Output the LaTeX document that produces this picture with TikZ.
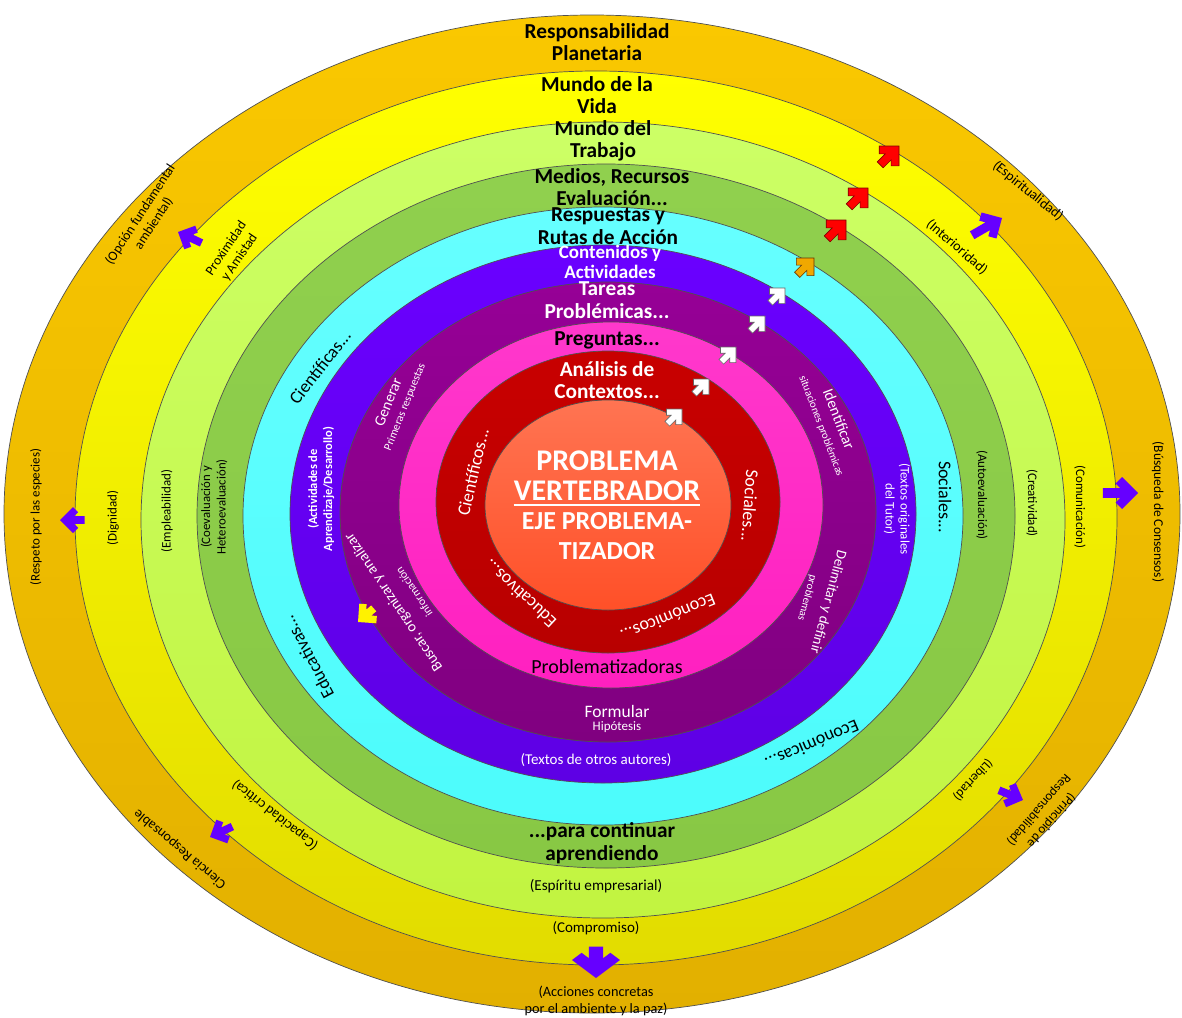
\documentclass[tikz,border=0pt]{standalone}
\usepackage{fontspec}
\setmainfont{Carlito}
\definecolor{ringline}{HTML}{505050}
\definecolor{orT}{HTML}{FAC800}
\definecolor{orB}{HTML}{E2B000}
\definecolor{yeT}{HTML}{FFFF00}
\definecolor{yeB}{HTML}{E2DC00}
\definecolor{lgT}{HTML}{CCFF66}
\definecolor{lgB}{HTML}{C2F440}
\definecolor{grT}{HTML}{90D04E}
\definecolor{grB}{HTML}{88C844}
\definecolor{cyT}{HTML}{66FFFF}
\definecolor{cyB}{HTML}{4CFCFC}
\definecolor{viT}{HTML}{6A00FF}
\definecolor{viB}{HTML}{5E00E4}
\definecolor{puT}{HTML}{960096}
\definecolor{puB}{HTML}{800080}
\definecolor{piT}{HTML}{FF38CC}
\definecolor{piB}{HTML}{FF20C0}
\definecolor{reT}{HTML}{C80000}
\definecolor{reB}{HTML}{B80000}
\definecolor{ceT}{HTML}{FF7452}
\definecolor{ceB}{HTML}{FF5028}
\definecolor{arrPurple}{HTML}{6600FF}
\definecolor{arrRed}{HTML}{FF0000}
\definecolor{arrOrange}{HTML}{F0A800}
\newcommand{\fsz}[2]{\fontsize{#1}{#2}\selectfont}
% style, x, y, angle, size, tail length, head length factor
\newcommand{\blockarr}[7]{%
  \path[#1, shift={(#2,#3)}, rotate=#4, scale=#5, xscale=#7]
    (0,0) -- (-1,1) -- (-1.4,0.6) -- (-1.1,0.3) -- (-#6,0.3) -- (-#6,-0.3)
    -- (-1.1,-0.3) -- (-1.4,-0.6) -- (-1,-1) -- cycle;}
\begin{document}
\begin{tikzpicture}[x=1pt,y=-1pt,
  ring/.style={draw=ringline, line width=0.7pt},
  head/.style={font={\fsz{21.3}{22.5}\bfseries}, align=center, inner sep=0pt},
  headw/.style={head, text=white},
  lab/.style={font={\fsz{13}{15}}, align=center, inner sep=0pt},
  labm/.style={font={\fsz{14.5}{16.5}}, align=center, inner sep=0pt},
  bigl/.style={font={\fsz{18}{20}}, align=center, inner sep=0pt},
  tinyl/.style={font={\fsz{11}{13}}, align=center, inner sep=0pt},
  parr/.style={fill=arrPurple},
  rarr/.style={fill=arrRed, draw=red!50!black, line width=0.6pt},
  oarr/.style={fill=arrOrange, draw=orange!40!black, line width=0.6pt},
  warr/.style={fill=white, draw=black!60, line width=0.6pt},
  yarr/.style={fill=yellow}]
\path[use as bounding box] (0,0) rectangle (1182,1017);

% rings
\path[ring, top color=orT, bottom color=orB] (592,514) ellipse [x radius=588pt, y radius=499pt];
\path[ring, top color=yeT, bottom color=yeB] (596,518) ellipse [x radius=521pt, y radius=447pt];
\path[ring, top color=lgT, bottom color=lgB] (603,520) ellipse [x radius=462pt, y radius=398pt];
\path[ring, top color=grT, bottom color=grB] (606,516) ellipse [x radius=409pt, y radius=352pt];
\path[ring, top color=cyT, bottom color=cyB] (603,516) ellipse [x radius=360pt, y radius=309pt];
\path[ring, top color=viT, bottom color=viB] (603,514) ellipse [x radius=313pt, y radius=269pt];
\path[ring, top color=puT, bottom color=puB] (608,512) ellipse [x radius=268pt, y radius=230pt];
\path[ring, top color=piT, bottom color=piB] (611,505) ellipse [x radius=212pt, y radius=183pt];
\path[ring, top color=reT, bottom color=reB] (608,502) ellipse [x radius=172pt, y radius=151pt];
\path[ring, top color=ceT, bottom color=ceB] (608,505) ellipse [x radius=123pt, y radius=105pt];

% headings
\node[head] (resp) at (597,42) {Responsabilidad\\Planetaria};
\node[head] (vida) at (597,95) {Mundo de la\\Vida};
\node[head] (trab) at (603,141) {Mundo del\\Trabajo};
\node[head] (medi) at (612,187) {Medios, Recursos\\Evaluación...};
\node[head] (ruta) at (608,226) {Respuestas y\\Rutas de Acción};
\node[headw, font={\fsz{19}{19.5}\bfseries}] (cont) at (610,262) {Contenidos y\\Actividades};
\node[headw] (tare) at (607,300) {Tareas\\Problémicas...};
\node[head] (preg) at (607,340) {Preguntas...};
\node[headw] (anal) at (607,380) {Análisis de\\Contextos...};

% center
\node[headw, font={\fsz{30}{32}\bfseries}] (pb1) at (607,461) {PROBLEMA};
\node[headw, font={\fsz{30}{32}\bfseries}] (pb2) at (607,491) {VERTEBRADOR};
\draw[white, line width=2pt] ([yshift=-4pt]pb2.base west) -- ([yshift=-4pt]pb2.base east);
\node[headw, font={\fsz{26}{28}\bfseries}] (pb3) at (607,521) {EJE PROBLEMA-};
\node[headw, font={\fsz{26}{28}\bfseries}] (pb4) at (607,551) {TIZADOR};

% red ring words
\node[bigl, text=white, rotate=77] (rcie) at (473,472) {Científicos...};
\node[bigl, text=white, rotate=-94] (rsoc) at (750,506) {Sociales...};
\node[bigl, text=white, rotate=137] (redu) at (520,594) {Educativos...};
\node[bigl, text=white, rotate=202] (reco) at (668,618) {Económicos...};

% pink ring
\node[font={\fsz{20}{22}}, inner sep=0pt] (probz) at (607,667) {Problematizadoras};

% purple ring
\node[font={\fsz{17.5}{19}}, text=white, inner sep=0pt] (form) at (617,711) {Formular};
\node[lab, text=white] (hipo) at (617,727) {Hipótesis};
\node[font={\fsz{15.3}{17}}, text=white, inner sep=0pt, rotate=68] (gen1) at (388,402) {Generar};
\node[tinyl, font={\fsz{11.4}{13}}, text=white, rotate=68] (gen2) at (405,407) {Primeras respuestas};
\node[font={\fsz{15}{17}}, text=white, inner sep=0pt, rotate=124] (bus1) at (394,602) {Buscar, organizar y analizar};
\node[tinyl, font={\fsz{11.6}{13}}, text=white, rotate=124] (bus2) at (414,592) {información};
\node[font={\fsz{15.5}{17}}, text=white, inner sep=0pt, rotate=-69] (ide1) at (839,419) {Identificar};
\node[tinyl, text=white, rotate=-69] (ide2) at (821,426) {situaciones problémicas};
\node[font={\fsz{14.5}{16}}, text=white, inner sep=0pt, rotate=-105] (del1) at (828,602) {Delimitar y definir};
\node[tinyl, text=white, rotate=-105] (del2) at (807,598) {problemas};

% violet ring
\node[font={\fsz{15}{17}}, text=white, inner sep=0pt] (totr) at (596,760) {(Textos de otros autores)};
\node[font={\fsz{12.5}{15}\bfseries}, text=white, align=center, inner sep=0pt, rotate=90] (actv) at (321,489) {(Actividades de\\Aprendizaje/Desarrollo)};
\node[lab, text=white, rotate=-90] (ttut) at (897,509) {(Textos originales\\del Tutor)};

% cyan ring
\node[bigl, rotate=52] (ccie) at (320,367) {Científicas...};
\node[bigl, rotate=118] (cedu) at (308,657) {Educativas...};
\node[bigl, rotate=-90] (csoc) at (945,497) {Sociales...};
\node[bigl, rotate=203] (ceco) at (812,745) {Económicas...};

% green ring
\node[head] (paco) at (602,843) {...para continuar\\aprendiendo};
\node[lab, font={\fsz{12.8}{15.5}}, rotate=90] (coev) at (214,507) {(Coevaluación y\\Heteroevaluación)};
\node[lab, rotate=-90] (auto) at (982,495) {(Autoevaluación)};

% light green ring
\node[labm, font={\fsz{15.2}{17}}] (espe) at (596,886) {(Espíritu empresarial)};
\node[lab, rotate=90] (empl) at (167,511) {(Empleabilidad)};
\node[lab, rotate=-90] (crea) at (1032,503) {(Creatividad)};
\node[labm, font={\fsz{14}{16}}, rotate=-41] (inte) at (957,247) {(Interioridad)};
\node[labm, font={\fsz{14}{16}}, rotate=142] (capa) at (275,815) {(Capacidad crítica)};
\node[lab, rotate=56, font={\fsz{13.5}{16}}] (prox) at (233,253) {Proximidad\\y Amistad};

% yellow ring
\node[labm, font={\fsz{15}{17}}] (comp) at (596,928) {(Compromiso)};
\node[lab, rotate=90] (dign) at (113,518) {(Dignidad)};
\node[lab, rotate=-90] (comu) at (1080,507) {(Comunicación)};
\node[lab, rotate=-133] (libe) at (973,780) {(Libertad)};

% orange ring
\node[labm, font={\fsz{14.3}{17}}] (acci) at (596,1001) {(Acciones concretas\\por el ambiente y la paz)};
\node[lab, rotate=90] (resp2) at (36,517) {(Respeto por las especies)};
\node[lab, rotate=-90, font={\fsz{13.5}{15}}] (busq) at (1158,512) {(Búsqueda de Consensos)};
\node[lab, rotate=57, font={\fsz{13.5}{16}}] (opci) at (147,219) {(Opción fundamental\\ambiental)};
\node[labm, font={\fsz{14}{16}}, rotate=-39] (espi) at (1028,191) {(Espiritualidad)};
\node[lab, rotate=-131, font={\fsz{13}{16.5}}] (prin) at (1045,815) {(Principio de\\Responsabilidad)};
\node[labm, font={\fsz{14}{16}}, rotate=140] (cien) at (180,849) {Ciencia Responsable};

% arrows
\blockarr{parr}{60}{520}{180}{13}{1.9}{1}
\blockarr{parr}{178}{232}{155}{13}{2.0}{1}
\blockarr{parr}{1138}{493}{0}{16}{2.2}{1}
\blockarr{parr}{1002}{218}{30}{15}{2.3}{1}
\blockarr{parr}{1023}{800}{-22}{13}{2.0}{1}
\blockarr{parr}{210}{837}{205}{13}{1.9}{1}
\blockarr{parr}{596}{978}{-90}{24}{1.75}{0.75}
\blockarr{yarr}{358}{622}{221}{13}{1.6}{1}
\blockarr{rarr}{899}{146}{45}{14}{1.9}{1}
\blockarr{rarr}{868}{188}{45}{14}{1.9}{1}
\blockarr{rarr}{846}{220}{45}{14}{1.9}{1}
\blockarr{oarr}{814}{258}{45}{12.5}{1.9}{1}
\blockarr{warr}{785}{288}{45}{11}{1.9}{1}
\blockarr{warr}{765}{316}{45}{11}{1.9}{1}
\blockarr{warr}{736}{347}{45}{11}{1.9}{1}
\blockarr{warr}{709}{379}{45}{11}{1.9}{1}
\blockarr{warr}{682}{409}{45}{11}{1.9}{1}
\end{tikzpicture}
\end{document}
